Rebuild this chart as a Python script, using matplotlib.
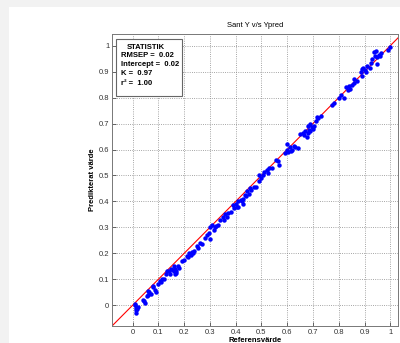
import numpy as np
import matplotlib.pyplot as plt
from matplotlib.patches import Rectangle

# referens (x) and predikterat (y) values
ref = [0.010, 0.012, 0.015, 0.013, 0.008, 0.018,
       0.040, 0.050, 0.045, 0.055, 0.060, 0.065, 0.060, 0.070,
       0.080, 0.085, 0.090, 0.080, 0.100, 0.110, 0.115, 0.120, 0.130, 0.140,
       0.135, 0.145, 0.150, 0.160, 0.165, 0.170, 0.175, 0.165, 0.160, 0.170,
       0.190, 0.200, 0.210, 0.220, 0.230, 0.240, 0.215, 0.235,
       0.250, 0.260, 0.270, 0.255, 0.280, 0.290, 0.300, 0.295,
       0.300, 0.310, 0.320, 0.330, 0.315, 0.340, 0.350, 0.360, 0.370, 0.380, 0.355,
       0.390, 0.400, 0.410, 0.420, 0.430, 0.440, 0.410, 0.430, 0.405,
       0.445, 0.455, 0.460, 0.450, 0.480, 0.490, 0.500, 0.505, 0.490,
       0.520, 0.530, 0.525, 0.555, 0.565, 0.570,
       0.590, 0.600, 0.610, 0.620, 0.600, 0.615, 0.630, 0.640,
       0.650, 0.660, 0.670, 0.680, 0.690, 0.700, 0.675, 0.680, 0.690, 0.695,
       0.710, 0.720, 0.730, 0.715, 0.775, 0.780,
       0.800, 0.810, 0.820, 0.830, 0.840, 0.850, 0.860, 0.845, 0.860, 0.870,
       0.885, 0.890, 0.900, 0.910, 0.920, 0.895, 0.890,
       0.930, 0.940, 0.950, 0.960, 0.965, 0.935, 0.945, 0.950, 0.990, 1.000,
       0.020, 0.105, 0.155, 0.180, 0.225, 0.325, 0.365, 0.395, 0.425, 0.435,
       0.470, 0.510, 0.540, 0.605, 0.625, 0.665, 0.685, 0.705, 0.835, 0.905,
       0.925, 0.955]
pred = [0.000, -0.010, -0.020, -0.028, 0.005, -0.015,
        0.020, 0.010, 0.015, 0.035, 0.040, 0.050, 0.055, 0.045,
        0.070, 0.060, 0.050, 0.075, 0.080, 0.090, 0.100, 0.100, 0.120, 0.130,
        0.130, 0.120, 0.140, 0.150, 0.140, 0.130, 0.150, 0.120, 0.130, 0.125,
        0.170, 0.175, 0.190, 0.200, 0.205, 0.210, 0.185, 0.200,
        0.230, 0.240, 0.235, 0.220, 0.260, 0.270, 0.255, 0.280,
        0.300, 0.310, 0.300, 0.310, 0.290, 0.330, 0.340, 0.350, 0.355, 0.360, 0.330,
        0.385, 0.390, 0.400, 0.405, 0.410, 0.420, 0.380, 0.390, 0.378,
        0.440, 0.450, 0.445, 0.430, 0.455, 0.480, 0.490, 0.500, 0.500,
        0.520, 0.530, 0.510, 0.560, 0.555, 0.540,
        0.585, 0.600, 0.610, 0.600, 0.620, 0.595, 0.610, 0.605,
        0.660, 0.665, 0.670, 0.665, 0.670, 0.680, 0.650, 0.690, 0.700, 0.685,
        0.710, 0.720, 0.730, 0.725, 0.770, 0.780,
        0.800, 0.810, 0.800, 0.840, 0.845, 0.850, 0.855, 0.835, 0.870, 0.865,
        0.900, 0.910, 0.905, 0.920, 0.915, 0.915, 0.885,
        0.950, 0.960, 0.955, 0.960, 0.970, 0.975, 0.980, 0.930, 0.985, 0.995,
        -0.005, 0.095, 0.135, 0.145, 0.195, 0.305, 0.340, 0.375, 0.400, 0.425,
        0.455, 0.515, 0.530, 0.590, 0.615, 0.655, 0.675, 0.690, 0.830, 0.900,
        0.935, 0.965]

ticks = [0, 0.1, 0.2, 0.3, 0.4, 0.5, 0.6, 0.7, 0.8, 0.9, 1]
tick_labels = ['0', '0.1', '0.2', '0.3', '0.4', '0.5', '0.6', '0.7', '0.8', '0.9', '1']
xlims = [-0.08, 1.03]
ylims = [-0.08, 1.045]

stats_lines = ['STATISTIK', 'RMSEP =  0.02', 'Intercept =  0.02', 'K =  0.97', 'r² =  1.00']

plt.rcParams['font.family'] = ['Liberation Sans', 'DejaVu Sans']

fig = plt.figure(figsize=(4.0, 3.43), dpi=100, facecolor='#f2f2f2')
fig.patches.append(Rectangle((9 / 400, 0), 1, 336 / 343, transform=fig.transFigure,
                             facecolor='white', edgecolor='none', zorder=-10))

ax = fig.add_axes([112 / 400, 17 / 343, 286 / 400, 292 / 343])
ax.set_facecolor('white')
ax.plot([-0.08, 1.1], [-0.08, 1.1], color='red', lw=0.8, zorder=2)
ax.plot(ref, pred, 'o', color='blue', markersize=3.2, markeredgewidth=0, zorder=3)

ax.set_xlim(xlims)
ax.set_ylim(ylims)
ax.set_xticks(ticks)
ax.set_xticklabels(tick_labels)
ax.set_yticks(ticks)
ax.set_yticklabels(tick_labels)
ax.tick_params(direction='in', length=3, width=0.5, labelsize=5.5, pad=2, colors='#333333')
ax.grid(True, linestyle=':', color='#888888', lw=0.6)
for s in ax.spines.values():
    s.set_color('#777777')
    s.set_linewidth(0.7)

ax.set_title('Sant Y v/s Ypred', fontsize=5.5, pad=5)
ax.set_xlabel('Referensvärde', fontsize=5.5, fontweight='bold', labelpad=1)
ax.set_ylabel('Predikterat värde', fontsize=5.5, fontweight='bold', labelpad=2)

# statistics box
ax.add_patch(Rectangle((0.014, 0.788), 0.231, 0.195, transform=ax.transAxes,
                       facecolor='white', edgecolor='#666666', lw=0.8, zorder=5))
ax.text(0.05, 0.955, stats_lines[0], transform=ax.transAxes, fontsize=5.5,
        fontweight='bold', va='center', zorder=6)
ys = [0.925, 0.894, 0.865, 0.832]
for y, t in zip(ys, stats_lines[1:]):
    ax.text(0.03, y, t, transform=ax.transAxes, fontsize=5.5, fontweight='bold',
            va='center', zorder=6)

fig.savefig('out.png', dpi=100, facecolor=fig.get_facecolor())
